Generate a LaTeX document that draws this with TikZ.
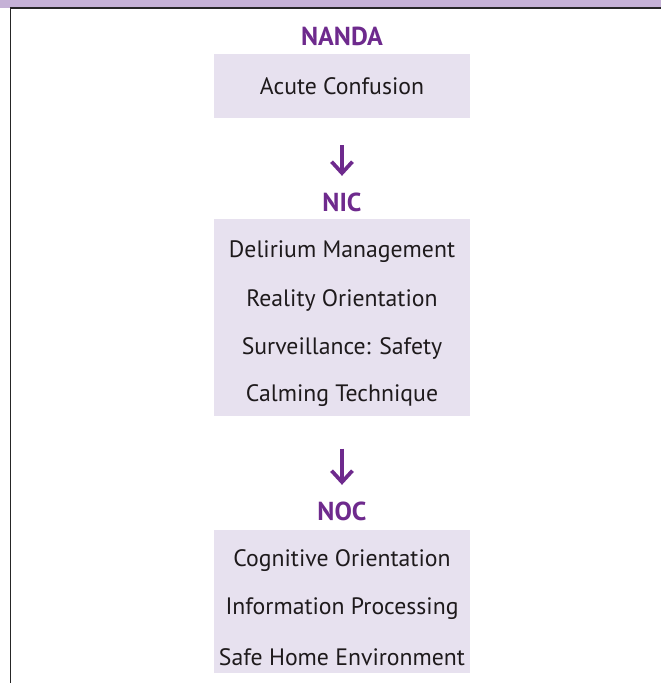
\documentclass[tikz,border=0pt]{standalone}
\usepackage{fontspec}
\setmainfont{PT Sans}
\usepackage{xcolor}
\usetikzlibrary{arrows.meta}
\usetikzlibrary{positioning}

\definecolor{bandlilac}{HTML}{C5B1D6}
\definecolor{boxlilac}{HTML}{E7E1EF}
\definecolor{headpurple}{HTML}{6E2A8D}
\definecolor{textdark}{HTML}{1E1A1C}

\begin{document}
\begin{tikzpicture}[
        x=0.75pt, y=-0.75pt,
        classbox/.style={fill=boxlilac, draw=none, minimum width=192pt, anchor=north},
        classlabel/.style={font=\fontsize{19.5}{22}\selectfont\bfseries, text=headpurple},
        item/.style={font=\fontsize{17.8}{20}\selectfont, text=textdark, yshift=-1.5pt},
        arrow/.style={-{Straight Barb[length=3mm, width=5.5mm, line width=2.8pt]}, line width=3.2pt, headpurple}
    ]
    \useasboundingbox (0,0) rectangle (661,683);

    % Rahmen
    \fill[bandlilac] (0,0) rectangle (661,7.5);
    \draw[line width=1.2pt, black!85] (10.5,683) -- (10.5,8.2) -- (661,8.2);

    % NANDA
    \node[classlabel] (nandalabel) at (342,36) {NANDA};
    \node[classbox, minimum height=48pt] (nandabox) at (342,54) {};
    \node[item] (acute) at (342,84) {Acute Confusion};

    % NIC
    \node[classlabel] (niclabel) at (342,202) {NIC};
    \node[classbox, minimum height=147.75pt] (nicbox) at (342,219) {};
    \node[item] (delirium) at (342,250) {Delirium Management};
    \node[item] (reality) at (342,298) {Reality Orientation};
    \node[item] (surveil) at (342,346) {Surveillance: Safety};
    \node[item] (calming) at (342,394) {Calming Technique};

    % NOC
    \node[classlabel] (noclabel) at (342,511) {NOC};
    \node[classbox, minimum height=107.25pt] (nocbox) at (342,530) {};
    \node[item] (cognitive) at (342,559) {Cognitive Orientation};
    \node[item] (infoproc) at (342,607) {Information Processing};
    \node[item] (safehome) at (342,655) {Safe Home Environment};

    % Pfeile
    \draw[arrow] ([yshift=-20pt]nandabox.south) -- ([yshift=9pt]niclabel.north);
    \draw[arrow] ([yshift=-24pt]nicbox.south) -- ([yshift=9pt]noclabel.north);

\end{tikzpicture}
\end{document}
